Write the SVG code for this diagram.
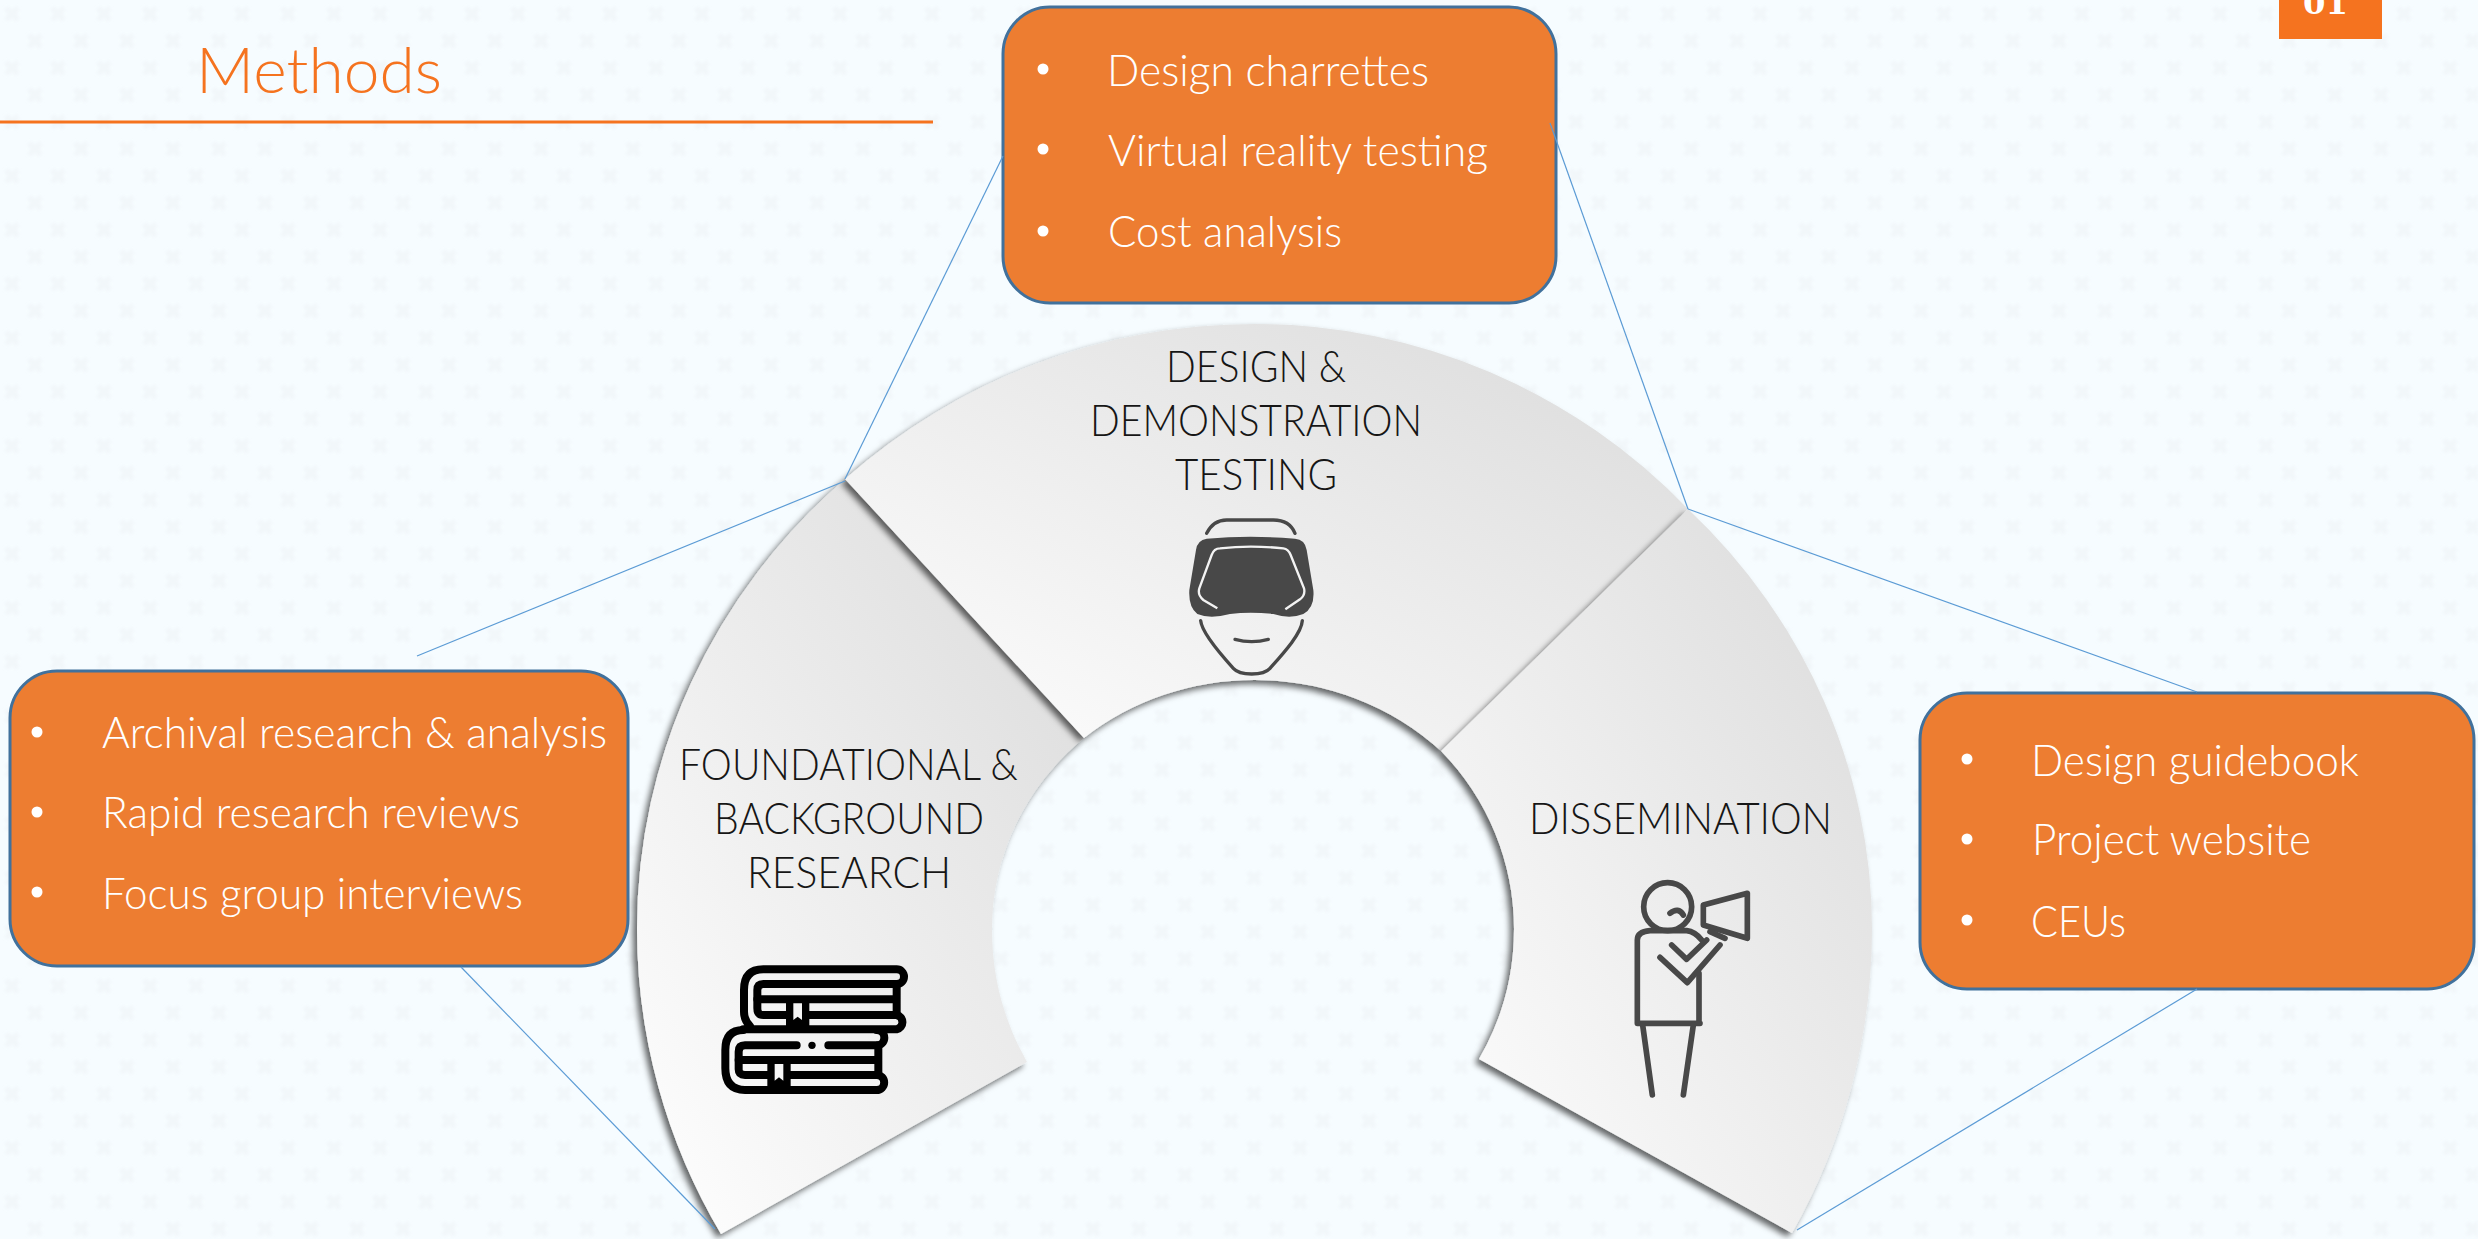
<svg xmlns="http://www.w3.org/2000/svg" width="2478" height="1239" viewBox="0 0 2478 1239">
<style>
.t{font-family:"Lato","Liberation Sans",sans-serif;font-weight:300}
.item{font-size:43px;fill:#fff}
.lab{font-size:43px;fill:#161616}
.box{fill:#ED7D31;stroke:#41719C;stroke-width:3}
.bul{fill:#fff}
.con{stroke:#5B9BD5;stroke-width:1.2;fill:none}
.seg{fill:url(#segGrad);filter:url(#sh)}
.ic{fill:none;stroke:#484848;stroke-linecap:round;stroke-linejoin:round}
.bk{fill:none;stroke:#000;stroke-width:24;stroke-linecap:round;stroke-linejoin:round}
</style>
<defs>
<linearGradient id="segGrad" x1="0" y1="1" x2="1" y2="0"><stop offset="0" stop-color="#ffffff"/><stop offset="1" stop-color="#dadada"/></linearGradient>
<filter id="sh" x="-10%" y="-10%" width="120%" height="120%"><feDropShadow dx="-4" dy="4" stdDeviation="3" flood-color="#000" flood-opacity="0.6"/></filter>
<filter id="soft" x="0" y="0" width="100%" height="100%"><feGaussianBlur stdDeviation="1.600"/></filter>
<pattern id="bgp" width="46" height="54" patternUnits="userSpaceOnUse"><path d="M6,8L18,20M18,8L6,20M29,35L41,47M41,35L29,47" stroke="#EEF3F6" stroke-width="6" fill="none"/></pattern>
</defs>
<rect id="background" width="2478" height="1239" fill="#F6FCFF"/>
<rect width="2478" height="1239" fill="url(#bgp)" opacity="0.55" filter="url(#soft)"/>

<g id="header">
<text class="t" x="196" y="93" font-size="64" fill="#F5731F" textLength="246" lengthAdjust="spacingAndGlyphs">Methods</text>
<rect x="0" y="120.500" width="933" height="3" fill="#F5731F"/>
</g>
<g id="page-number">
<rect x="2279" y="0" width="103" height="39" fill="#F5731F"/>
<text x="2303" y="14" font-family="'DejaVu Serif',serif" font-weight="700" font-size="32" fill="#fff" textLength="45" lengthAdjust="spacingAndGlyphs">01</text>
</g>

<g id="seg-foundational">
<path class="seg" d="M845,479A618,601 0 0 0 637,929A618,606 0 0 0 721,1234L1027,1062A263,266 0 0 1 992,929A263,251 0 0 1 1084,738Z"/>
<text class="t lab" x="679" y="780" textLength="339" lengthAdjust="spacingAndGlyphs">FOUNDATIONAL &amp;</text>
<text class="t lab" x="714" y="834" textLength="270" lengthAdjust="spacingAndGlyphs">BACKGROUND</text>
<text class="t lab" x="747" y="888" textLength="204" lengthAdjust="spacingAndGlyphs">RESEARCH</text>
<g transform="translate(700,940) scale(.33333)">
<path class="bk" d="M150,258Q132,240 132,215V150Q132,88 190,88H590A22,22 0 0 1 590,132H190Q172,132 172,150V205Q172,225 190,225H590A22,22 0 0 1 590,268H130"/>
<path class="bk" d="M590,132V225M172,178H590"/>
<rect x="258" y="178" width="70" height="90" fill="#000"/>
<polygon points="280,190 306,190 306,240 293,230 280,240" fill="#f4f4f4"/>
<path class="bk" d="M130,270Q76,270 76,330V385Q76,450 135,450H530A22,22 0 0 0 530,405H135Q116,405 116,388V335Q116,316 135,316H290M385,316H530A22,22 0 0 0 530,270"/>
<path class="bk" d="M535,316V405M116,360H535"/>
<circle cx="336" cy="316" r="11" fill="#000"/>
<rect x="202" y="360" width="70" height="90" fill="#000"/>
<polygon points="224,372 250,372 250,422 237,412 224,422" fill="#f6f6f6"/>
</g>
</g>

<g id="seg-design">
<path class="seg" d="M845,479A613,605 0 0 1 1255,324A602,605 0 0 1 1688,509L1441,751A266,250 0 0 0 1255,680A266,250 0 0 0 1084,738Z"/>
<text class="t lab" x="1166" y="382" textLength="180" lengthAdjust="spacingAndGlyphs">DESIGN &amp;</text>
<text class="t lab" x="1090" y="436" textLength="332" lengthAdjust="spacingAndGlyphs">DEMONSTRATION</text>
<text class="t lab" x="1175" y="490" textLength="162" lengthAdjust="spacingAndGlyphs">TESTING</text>
<g transform="translate(1140,500) scale(.33333)">
<path class="ic" stroke-width="10" d="M200,100C215,70 235,60 260,60H400C435,60 455,75 465,100"/>
<path fill="#484848" d="M200,116Q330,105 465,116Q495,118 500,150L520,270Q525,322 490,342Q450,358 400,342Q330,335 270,342Q210,358 172,342Q145,322 148,270L168,150Q172,120 200,116Z"/>
<path fill="none" stroke="#f3f3f3" stroke-width="7" d="M232,325L190,300Q172,285 178,265L215,165Q222,145 240,145Q330,135 430,145Q445,147 452,165L492,265Q497,285 480,298L436,328"/>
<path class="ic" stroke-width="10" d="M182,362C185,395 230,450 280,505Q295,522 335,522Q375,522 390,505C430,460 485,400 487,362"/>
<path class="ic" stroke-width="10" d="M285,418Q335,432 385,418"/>
</g>
</g>

<g id="seg-dissemination">
<path class="seg" d="M1688,509A617,590 0 0 1 1872,929A617,618 0 0 1 1792,1233L1479,1059A259,259 0 0 0 1514,929A259,256 0 0 0 1441,751Z"/>
<text class="t lab" x="1529" y="834" textLength="303" lengthAdjust="spacingAndGlyphs">DISSEMINATION</text>
<g transform="translate(1600,860) scale(.33333)">
<g class="ic" stroke-width="17">
<circle cx="203" cy="140" r="72"/>
<path d="M210,160Q235,140 250,165"/>
<path d="M112,490V240Q112,215 150,212H260Q285,215 305,240M112,490H300M297,340V490"/>
<path d="M180,292L262,368L360,255M215,255L260,298L320,240"/>
<path d="M128,495L157,705M280,495L250,705"/>
<path d="M310,135L442,100V235L310,195Z"/>
<path d="M330,215L375,235"/>
</g>
</g>
</g>

<g id="box-top">
<rect class="box" x="1003" y="7" width="553" height="296" rx="47"/>
<circle class="bul" cx="1043" cy="69" r="5.500"/><circle class="bul" cx="1043" cy="149" r="5.500"/><circle class="bul" cx="1043" cy="231" r="5.500"/>
<text class="t item" x="1107" y="86" textLength="322" lengthAdjust="spacingAndGlyphs">Design charrettes</text>
<text class="t item" x="1108" y="166" textLength="380" lengthAdjust="spacingAndGlyphs">Virtual reality testing</text>
<text class="t item" x="1108" y="247" textLength="234" lengthAdjust="spacingAndGlyphs">Cost analysis</text>
</g>
<g id="box-left">
<rect class="box" x="10" y="671" width="618" height="295" rx="47"/>
<circle class="bul" cx="37" cy="732" r="5.500"/><circle class="bul" cx="37" cy="812" r="5.500"/><circle class="bul" cx="37" cy="892" r="5.500"/>
<text class="t item" x="102" y="748" textLength="505" lengthAdjust="spacingAndGlyphs">Archival research &amp; analysis</text>
<text class="t item" x="102" y="828" textLength="418" lengthAdjust="spacingAndGlyphs">Rapid research reviews</text>
<text class="t item" x="102" y="909" textLength="421" lengthAdjust="spacingAndGlyphs">Focus group interviews</text>
</g>
<g id="box-right">
<rect class="box" x="1920" y="693" width="554" height="296" rx="47"/>
<circle class="bul" cx="1967" cy="759" r="5.500"/><circle class="bul" cx="1967" cy="839" r="5.500"/><circle class="bul" cx="1967" cy="920" r="5.500"/>
<text class="t item" x="2031" y="776" textLength="328" lengthAdjust="spacingAndGlyphs">Design guidebook</text>
<text class="t item" x="2032" y="855" textLength="279" lengthAdjust="spacingAndGlyphs">Project website</text>
<text class="t item" x="2031" y="937" textLength="95" lengthAdjust="spacingAndGlyphs">CEUs</text>
</g>

<g id="connectors">
<path class="con" d="M1003,156L845,479"/>
<path class="con" d="M845,481L417,656"/>
<path class="con" d="M1550,123L1688,509"/>
<path class="con" d="M1688,509L2197,692"/>
<path class="con" d="M461,967L715,1229"/>
<path class="con" d="M2197,989L1797,1230"/>
</g>
</svg>
